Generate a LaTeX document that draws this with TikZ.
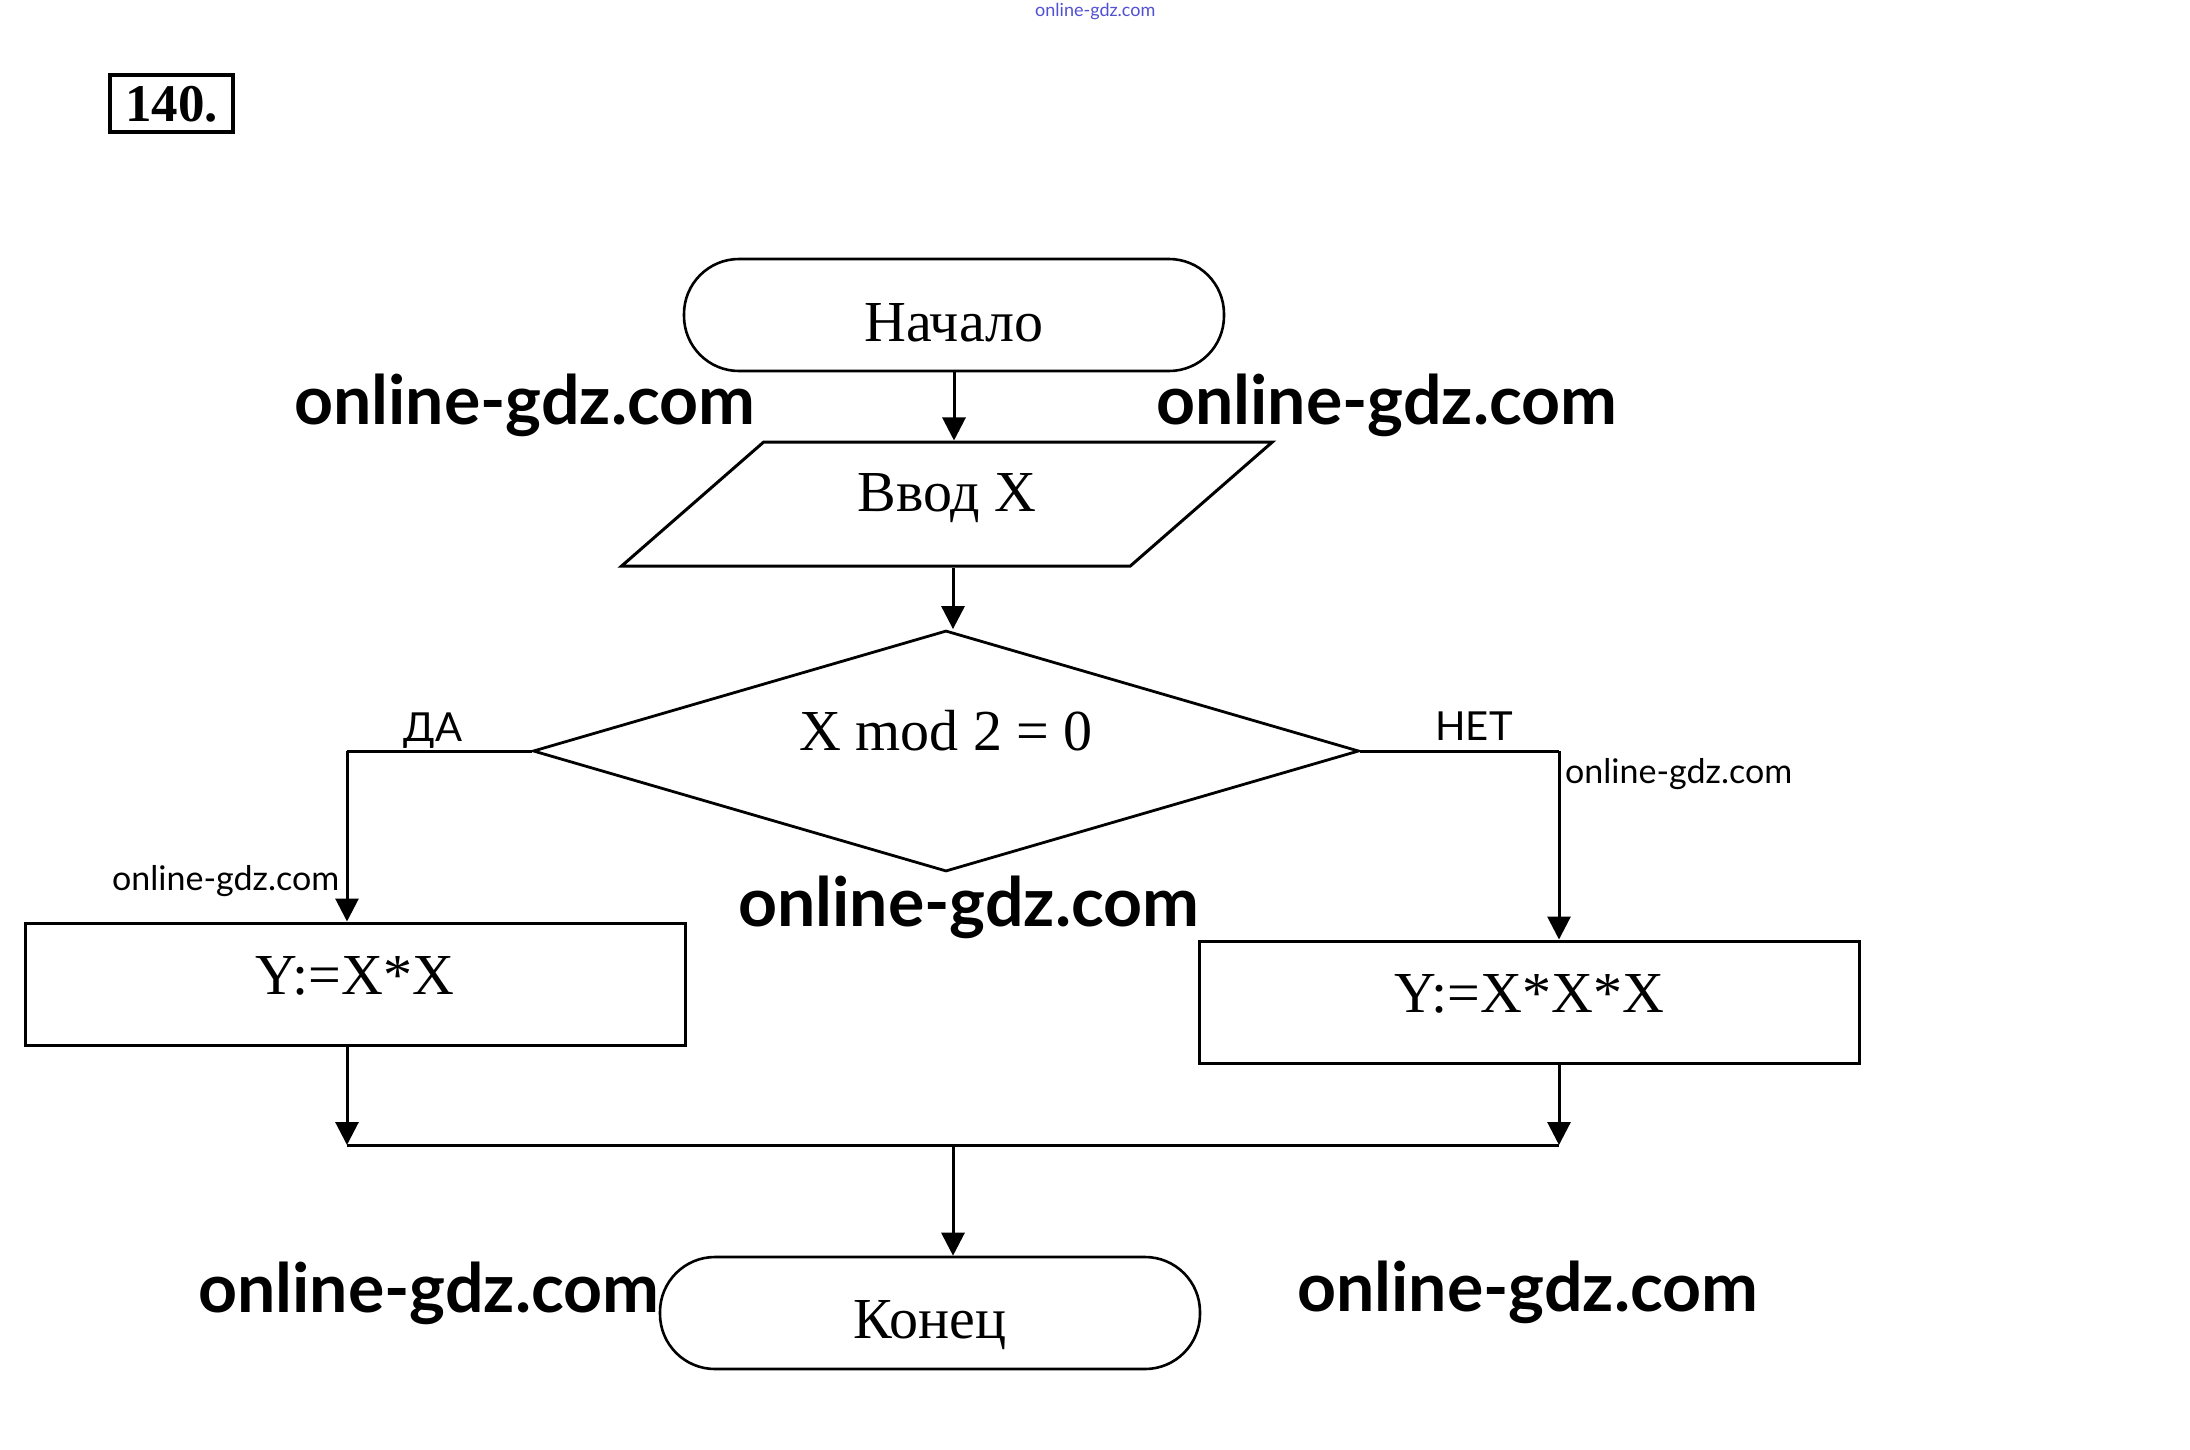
\documentclass[tikz,border=0pt]{standalone}
\usepackage{fontspec}
\setmainfont{Liberation Serif}
\newfontfamily\wmfont{Lato}
\usetikzlibrary{arrows.meta}
\usetikzlibrary{shapes.geometric}
\tikzstyle{block}=[draw,line width=3pt,inner sep=0pt,font=\fontsize{58pt}{60pt}\selectfont]
\tikzstyle{terminal}=[block,rectangle,rounded corners=55pt,minimum width=540pt,minimum height=112pt,line width=2.6pt]
\tikzstyle{io}=[block,trapezium,trapezium left angle=43.6,trapezium right angle=136.4,trapezium stretches=true,minimum width=652pt,minimum height=124pt]
\tikzstyle{decision}=[block,diamond,shape aspect=3.427,minimum width=826pt,minimum height=241pt,line width=2.8pt]
\tikzstyle{process}=[block,rectangle,minimum width=660pt,minimum height=122pt]
\tikzstyle{flow}=[line width=3pt,-{Triangle[length=23pt,width=23pt]}]
\tikzstyle{branch}=[inner sep=0pt,font=\wmfont\fontsize{40pt}{42pt}\selectfont]
\tikzstyle{wmbig}=[inner sep=0pt,anchor=base west,font=\wmfont\bfseries\fontsize{68pt}{70pt}\selectfont]
\tikzstyle{wmsmall}=[inner sep=0pt,anchor=base west,font=\wmfont\fontsize{34pt}{36pt}\selectfont]
\definecolor{wmblue}{RGB}{80,80,210}

\begin{document}
\begin{tikzpicture}[x=1pt,y=-1pt,line join=miter]
\useasboundingbox (0,0) rectangle (2190,1449);
\node [draw,line width=4pt,minimum width=123pt,minimum height=57pt,inner sep=0pt,
  text height=35pt,text depth=0pt,font=\bfseries\fontsize{53pt}{55pt}\selectfont] (num) at (171.5,103.5) {140.};
\node [terminal,text height=52pt,text depth=0pt] (start) at (954,315) {Начало};
\node [io,text height=40pt,text depth=26pt] (input) at (947,504) {Ввод X};
\node [decision,text height=40pt,text depth=42pt] (cond) at (946,751) {X mod 2 = 0};
\node [process,text height=40pt,text depth=20pt] (square) at (355,984) {Y:=X*X};
\node [process,text height=40pt,text depth=20pt] (cube) at (1529.5,1002) {Y:=X*X*X};
\node [terminal,text height=50pt,text depth=0pt] (stop) at (930,1313) {Конец};
\coordinate (yesturn) at (347,751);
\coordinate (noturn) at (1559,751);
\coordinate (joinL) at (347,1145);
\coordinate (joinR) at (1559,1145);
\coordinate (joinM) at (953,1145);
\draw [flow] (start.south) -- (start.south |- input.north);
\draw [flow] (input.south -| joinM) -- (cond.north -| joinM);
\draw [line width=3pt] (cond.west) -- (yesturn);
\draw [flow] (yesturn) -- (yesturn |- square.north);
\draw [line width=3pt] (cond.east) -- (noturn);
\draw [flow] (noturn) -- (noturn |- cube.north);
\draw [flow] (square.south -| joinL) -- (joinL);
\draw [flow] (cube.south -| joinR) -- (joinR);
\draw [line width=3pt] (joinL) -- (joinR);
\draw [flow] (joinM) -- (joinM |- stop.north);
\node [branch,anchor=base] (yes) at (433,741) {ДА};
\node [branch,anchor=base] (no) at (1474,740) {НЕТ};
\node [inner sep=0pt,anchor=base west,text=wmblue,font=\wmfont\fontsize{18pt}{19pt}\selectfont] (wmtop) at (1035,16) {online-gdz.com};
\node [wmbig] (wm1) at (294,424) {online-gdz.com};
\node [wmbig] (wm2) at (1156,424) {online-gdz.com};
\node [wmbig] (wm3) at (738,926) {online-gdz.com};
\node [wmbig] (wm4) at (198,1312) {online-gdz.com};
\node [wmbig] (wm5) at (1297,1311) {online-gdz.com};
\node [wmsmall] (wm6) at (112,890) {online-gdz.com};
\node [wmsmall] (wm7) at (1565,783) {online-gdz.com};
\end{tikzpicture}
\end{document}
